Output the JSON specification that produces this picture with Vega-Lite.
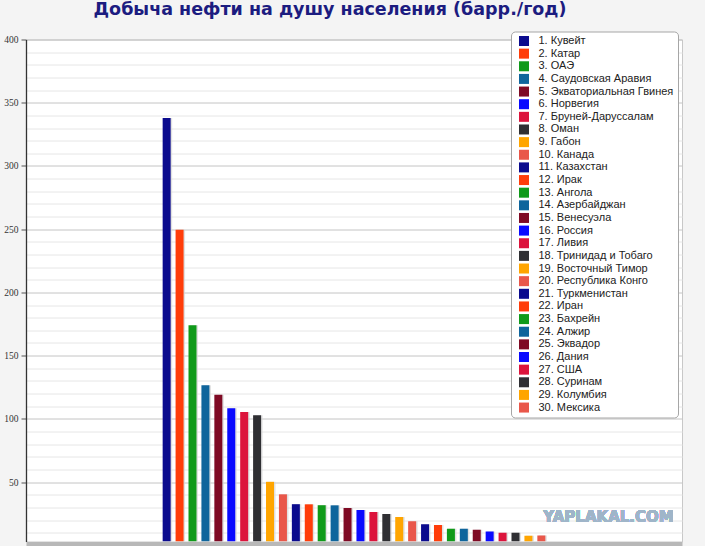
{
  "$schema": "https://vega.github.io/schema/vega-lite/v6.json",
  "description": "Oil production per capita, barrels per year, top 30 countries.",
  "autosize": {"type": "none"},
  "width": 656,
  "height": 502,
  "padding": {"left": 26, "top": 39.5, "right": 23, "bottom": 4.5},
  "background": "#f4f4f4",
  "title": {
    "text": "Добыча нефти на душу населения (барр./год)",
    "font": "DejaVu Sans",
    "fontSize": 17.5,
    "fontWeight": "bold",
    "color": "#1c1c80",
    "anchor": "middle",
    "baseline": "bottom",
    "dx": -24,
    "offset": -5
  },
  "data": {
    "values": [
      {"rank": 1, "country": "1. Кувейт", "value": 338},
      {"rank": 2, "country": "2. Катар", "value": 249.5},
      {"rank": 3, "country": "3. ОАЭ", "value": 174},
      {"rank": 4, "country": "4. Саудовская Аравия", "value": 126.5},
      {"rank": 5, "country": "5. Экваториальная Гвинея", "value": 119},
      {"rank": 6, "country": "6. Норвегия", "value": 108.3},
      {"rank": 7, "country": "7. Бруней-Даруссалам", "value": 105.5},
      {"rank": 8, "country": "8. Оман", "value": 102.8},
      {"rank": 9, "country": "9. Габон", "value": 50.2},
      {"rank": 10, "country": "10. Канада", "value": 40.3},
      {"rank": 11, "country": "11. Казахстан", "value": 32.5},
      {"rank": 12, "country": "12. Ирак", "value": 32.4},
      {"rank": 13, "country": "13. Ангола", "value": 31.7},
      {"rank": 14, "country": "14. Азербайджан", "value": 31.6},
      {"rank": 15, "country": "15. Венесуэла", "value": 29.5},
      {"rank": 16, "country": "16. Россия", "value": 28},
      {"rank": 17, "country": "17. Ливия", "value": 26.3},
      {"rank": 18, "country": "18. Тринидад и Тобаго", "value": 24.7},
      {"rank": 19, "country": "19. Восточный Тимор", "value": 22.4},
      {"rank": 20, "country": "20. Республика Конго", "value": 19},
      {"rank": 21, "country": "21. Туркменистан", "value": 16.7},
      {"rank": 22, "country": "22. Иран", "value": 16},
      {"rank": 23, "country": "23. Бахрейн", "value": 13.1},
      {"rank": 24, "country": "24. Алжир", "value": 13},
      {"rank": 25, "country": "25. Эквадор", "value": 12.3},
      {"rank": 26, "country": "26. Дания", "value": 11},
      {"rank": 27, "country": "27. США", "value": 10},
      {"rank": 28, "country": "28. Суринам", "value": 9.9},
      {"rank": 29, "country": "29. Колумбия", "value": 7.5},
      {"rank": 30, "country": "30. Мексика", "value": 7.7}
    ]
  },
  "resolve": {"axis": {"y": "independent"}},
  "layer": [
    {
      "mark": {"type": "bar", "orient": "vertical", "width": 8, "xOffset": 1.5, "color": "#d4d4d4", "opacity": 0.7, "clip": true},
      "encoding": {
        "x": {
          "field": "rank",
          "type": "quantitative",
          "scale": {"domain": [-9.5, 40.5], "nice": false, "zero": false},
          "axis": {"labels": false, "ticks": false, "grid": false, "title": null, "domainColor": "#b8b8b8", "domainWidth": 5, "offset": 2.5}
        },
        "y": {
          "field": "value",
          "type": "quantitative",
          "stack": null,
          "scale": {"domain": [3, 400], "nice": false, "zero": false},
          "axis": {
            "orient": "left",
            "values": [10, 20, 30, 40, 60, 70, 80, 90, 110, 120, 130, 140, 160, 170, 180, 190, 210, 220, 230, 240, 260, 270, 280, 290, 310, 320, 330, 340, 360, 370, 380, 390],
            "grid": true,
            "gridColor": "#e6e6e6",
            "labels": false,
            "ticks": false,
            "domain": false,
            "title": null
          }
        }
      }
    },
    {
      "mark": {"type": "bar", "orient": "vertical", "width": 8, "clip": true},
      "encoding": {
        "x": {
          "field": "rank",
          "type": "quantitative",
          "axis": {"labels": false, "ticks": false, "grid": false, "title": null, "domainColor": "#b8b8b8", "domainWidth": 5, "offset": 2.5}
        },
        "y": {
          "field": "value",
          "type": "quantitative",
          "stack": null,
          "axis": {
            "orient": "left",
            "values": [50, 100, 150, 200, 250, 300, 350, 400],
            "grid": true,
            "gridColor": "#c4c4c4",
            "domain": true,
            "domainColor": "#333333",
            "domainWidth": 1.3,
            "ticks": true,
            "tickSize": 5,
            "tickColor": "#555555",
            "labelFont": "Liberation Sans Narrow",
            "labelFontSize": 9.5,
            "labelColor": "#333333",
            "labelPadding": 3,
            "title": null
          }
        },
        "color": {
          "field": "country",
          "type": "nominal",
          "scale": {
            "domain": ["1. Кувейт", "2. Катар", "3. ОАЭ", "4. Саудовская Аравия", "5. Экваториальная Гвинея", "6. Норвегия", "7. Бруней-Даруссалам", "8. Оман", "9. Габон", "10. Канада", "11. Казахстан", "12. Ирак", "13. Ангола", "14. Азербайджан", "15. Венесуэла", "16. Россия", "17. Ливия", "18. Тринидад и Тобаго", "19. Восточный Тимор", "20. Республика Конго", "21. Туркменистан", "22. Иран", "23. Бахрейн", "24. Алжир", "25. Эквадор", "26. Дания", "27. США", "28. Суринам", "29. Колумбия", "30. Мексика"],
            "range": ["#0b0b8e", "#ff3d0a", "#109a1a", "#0f659c", "#7f0a24", "#0a0aff", "#dc143c", "#2f2f33", "#ffa500", "#e9574a",
                      "#0b0b8e", "#ff3d0a", "#109a1a", "#0f659c", "#7f0a24", "#0a0aff", "#dc143c", "#2f2f33", "#ffa500", "#e9574a",
                      "#0b0b8e", "#ff3d0a", "#109a1a", "#0f659c", "#7f0a24", "#0a0aff", "#dc143c", "#2f2f33", "#ffa500", "#e9574a"]
          },
          "legend": {
            "title": null,
            "orient": "none",
            "legendX": 485,
            "legendY": -8,
            "fillColor": "#ffffff",
            "strokeColor": "#a6a6a6",
            "cornerRadius": 4,
            "padding": 4,
            "symbolType": "square",
            "symbolSize": 100,
            "symbolStrokeWidth": 0,
            "symbolOpacity": 1,
            "symbolOffset": 3.5,
            "labelFont": "Liberation Sans",
            "labelFontSize": 11,
            "labelColor": "#222222",
            "labelOffset": 9,
            "labelLimit": 300,
            "rowPadding": 0.64
          }
        }
      }
    },
    {
      "mark": {"type": "text", "font": "DejaVu Sans", "fontWeight": "bold", "fontSize": 15, "color": "#9fb5c9", "align": "center", "baseline": "middle"},
      "encoding": {
        "x": {"datum": 35.2, "type": "quantitative"},
        "y": {"datum": 22.7, "type": "quantitative", "axis": null},
        "text": {"value": "YAPLAKAL.COM"}
      }
    }
  ],
  "config": {
    "view": {"fill": "#ffffff", "stroke": "#c8c8c8"}
  }
}
